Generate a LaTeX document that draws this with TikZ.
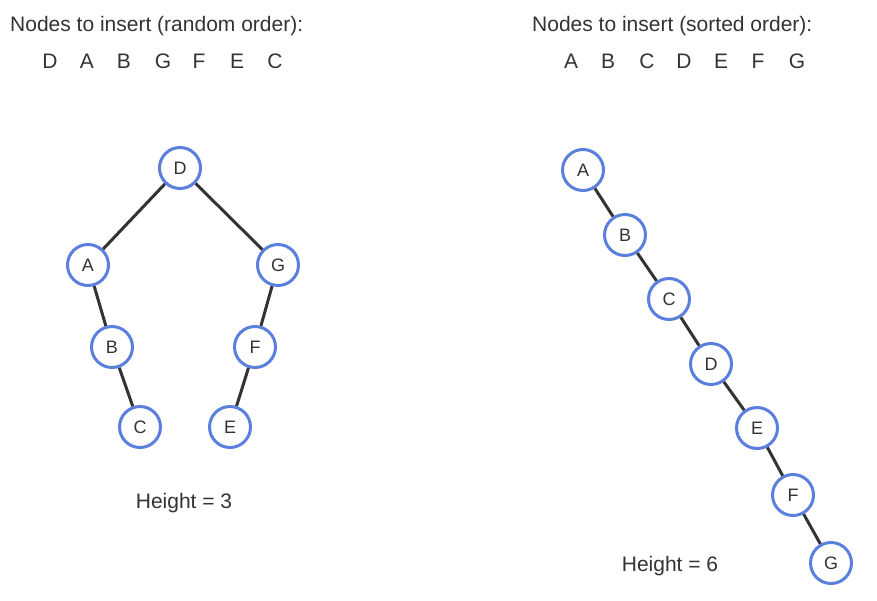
\documentclass[tikz,border=0pt]{standalone}
\usepackage{fontspec}
\setmainfont{Liberation Sans}
\definecolor{nodeblue}{HTML}{5A7FDC}
\definecolor{txt}{HTML}{333333}
\definecolor{edge}{HTML}{333333}
\begin{document}
\begin{tikzpicture}[x=1pt,y=-1pt,
  tnode/.style={circle,draw=nodeblue,line width=3pt,fill=white,minimum size=41pt,inner sep=0pt,text=txt,font=\fontsize{18}{18}\selectfont},
  tedge/.style={draw=edge,line width=3pt},
  lbl/.style={text=txt,font=\fontsize{21}{21}\selectfont,inner sep=0pt},
]
\useasboundingbox (0,0) rectangle (877,600);
% titles
\node[lbl,anchor=west] (t1) at (10,26) {Nodes to insert (random order):};
\node[lbl,anchor=west] (t2) at (532,26) {Nodes to insert (sorted order):};
% sequences
\foreach \l/\x [count=\i] in {D/50,A/87,B/124,G/163,F/199,E/237,C/275}
  \node[lbl] (s1\i) at (\x,61) {\l};
\foreach \l/\x [count=\i] in {A/571,B/608,C/647,D/684,E/721,F/758,G/797}
  \node[lbl] (s2\i) at (\x,61) {\l};
% left tree
\node[tnode] (LD) at (180,168) {D};
\node[tnode] (LA) at (88,265) {A};
\node[tnode] (LG) at (278,265) {G};
\node[tnode] (LB) at (112,347) {B};
\node[tnode] (LF) at (255,347) {F};
\node[tnode] (LC) at (140,427) {C};
\node[tnode] (LE) at (230,427) {E};
\draw[tedge] (LD) -- (LA);
\draw[tedge] (LD) -- (LG);
\draw[tedge] (LA) -- (LB);
\draw[tedge] (LB) -- (LC);
\draw[tedge] (LG) -- (LF);
\draw[tedge] (LF) -- (LE);
\node[lbl] (h1) at (184,503) {Height = 3};
% right tree
\node[tnode] (RA) at (583,170) {A};
\node[tnode] (RB) at (625,235) {B};
\node[tnode] (RC) at (669,299) {C};
\node[tnode] (RD) at (711,364) {D};
\node[tnode] (RE) at (757,428) {E};
\node[tnode] (RF) at (793,495) {F};
\node[tnode] (RG) at (831,563) {G};
\draw[tedge] (RA) -- (RB);
\draw[tedge] (RB) -- (RC);
\draw[tedge] (RC) -- (RD);
\draw[tedge] (RD) -- (RE);
\draw[tedge] (RE) -- (RF);
\draw[tedge] (RF) -- (RG);
\node[lbl] (h2) at (670,566) {Height = 6};
\end{tikzpicture}
\end{document}
